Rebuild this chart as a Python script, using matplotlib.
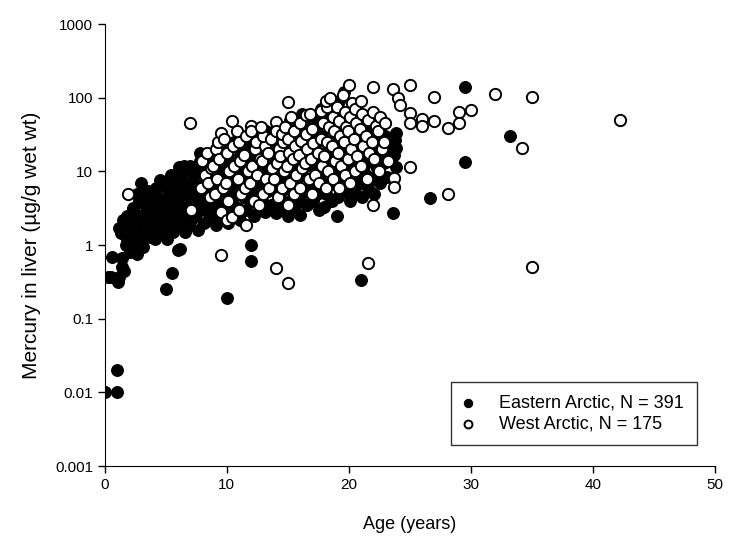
import matplotlib
matplotlib.use("Agg")
import matplotlib.pyplot as plt

plt.rcParams['font.family'] = ['Liberation Sans', 'DejaVu Sans']

# Eastern Arctic (filled): groups of (ages, Hg in liver ug/g wet wt)
east = [
    ([0.0, 1.0, 1.0], [0.01, 0.01, 0.02]),
    ([0.3, 0.6, 0.5, 1.4], [0.37, 0.68, 0.37, 0.66]),
    ([1.2, 1.6, 1.4, 1.1, 1.7, 1.3, 1.5, 1.8, 1.2], [0.37, 0.45, 0.5, 0.32, 1.0, 1.45, 2.2, 1.2, 1.7]),
    ([2.1, 1.9, 2.2, 2.0, 1.8, 2.3, 2.1], [0.8, 1.0, 1.3, 1.8, 2.5, 3.2, 2.0]),
    ([2.6, 2.4, 2.7, 2.5, 2.3, 2.8, 2.6], [0.75, 1.1, 1.5, 2.2, 3.0, 4.0, 5.0]),
    ([3.1, 2.9, 3.2, 3.0, 3.3, 2.9, 3.0, 3.1, 3.2], [0.94, 1.3, 1.8, 2.5, 3.5, 4.5, 7.0, 2.0, 1.5]),
    ([3.7, 3.5, 3.4, 3.6, 3.8, 3.5, 3.7], [1.28, 1.6, 2.2, 3.0, 4.0, 5.5, 2.7]),
    ([4.1, 3.9, 4.2, 4.0, 4.3, 3.9, 4.1, 4.2], [1.2, 1.6, 2.0, 2.5, 3.2, 4.2, 5.0, 6.0]),
    ([4.6, 4.4, 4.7, 4.5, 4.3, 4.5, 4.8], [1.5, 2.0, 2.8, 3.5, 4.5, 7.6, 2.4]),
    ([5.0, 5.1, 4.9, 5.2, 5.0, 4.9, 5.2, 5.1, 5.3], [0.25, 1.2, 1.7, 2.2, 3.0, 4.0, 5.5, 7.0, 2.6]),
    ([5.5, 5.6, 5.4, 5.7, 5.5, 5.8, 5.6, 5.4], [0.42, 1.5, 2.0, 2.8, 3.8, 5.0, 6.5, 9.0]),
    ([6.0, 6.2, 5.9, 6.1, 6.3, 5.9, 6.2, 6.0, 6.1], [0.85, 0.9, 1.8, 2.5, 3.3, 4.5, 6.0, 8.0, 11.4]),
    ([6.6, 6.4, 6.7, 6.5, 6.8, 6.4, 6.6, 6.5], [1.5, 2.2, 3.0, 4.2, 5.5, 7.5, 10.0, 12.0]),
    ([6.9, 7.1, 7.2, 6.9, 7.1, 7.3, 7.0], [1.9, 3.0, 4.0, 5.5, 7.0, 9.0, 12.0]),
    ([7.6, 7.4, 7.7, 7.5, 7.3, 7.6, 7.8], [1.6, 2.4, 3.5, 5.0, 7.0, 10.0, 14.0]),
    ([8.1, 7.9, 8.2, 8.0, 8.3, 7.9, 7.8], [2.0, 3.0, 4.5, 6.5, 9.0, 13.0, 17.7]),
    ([8.6, 8.4, 8.7, 8.5, 8.3, 8.6], [2.5, 3.5, 5.0, 7.5, 11.0, 16.0]),
    ([9.1, 8.9, 9.2, 9.0, 8.8, 9.1, 9.2], [1.9, 2.8, 4.0, 6.0, 9.0, 14.0, 20.0]),
    ([9.6, 9.4, 9.7, 9.5, 9.3, 9.6], [2.3, 3.5, 5.5, 8.0, 12.0, 18.0]),
    ([10.0, 10.1, 9.9, 10.2, 10.0, 9.8, 10.1, 10.3], [0.19, 2.0, 3.0, 4.5, 7.0, 10.0, 15.0, 22.0]),
    ([10.6, 10.4, 10.7, 10.5, 10.3, 10.6], [2.5, 4.0, 6.0, 9.0, 13.0, 25.0]),
    ([11.1, 10.9, 11.2, 11.0, 10.8, 11.1, 11.3], [2.2, 3.2, 5.0, 7.5, 11.0, 17.0, 28.0]),
    ([11.6, 11.4, 11.7, 11.5, 11.3, 11.6], [3.0, 4.5, 6.5, 10.0, 15.0, 22.0]),
    ([12.0, 12.0, 12.2, 11.9, 12.1, 11.8, 12.2, 12.0, 12.1], [0.6, 1.0, 2.5, 3.8, 5.5, 8.5, 13.0, 20.0, 30.0]),
    ([12.6, 12.4, 12.7, 12.5, 12.3, 12.6], [3.0, 4.5, 7.0, 11.0, 16.0, 25.0]),
    ([13.1, 12.9, 13.2, 13.0, 12.8, 13.1, 13.2], [2.8, 4.0, 6.0, 9.0, 14.0, 21.0, 35.0]),
    ([13.6, 13.4, 13.7, 13.5, 13.3, 13.6], [3.5, 5.5, 8.0, 12.0, 18.0, 28.0]),
    ([14.0, 14.1, 13.9, 14.2, 14.0, 13.8, 14.1], [2.7, 4.0, 6.0, 9.5, 14.0, 22.0, 40.0]),
    ([14.6, 14.4, 14.7, 14.5, 14.3, 14.6], [3.2, 5.0, 7.5, 11.0, 17.0, 30.0]),
    ([15.0, 15.1, 14.9, 15.2, 15.0, 14.8, 15.1, 15.2], [2.5, 3.8, 6.0, 9.0, 13.0, 20.0, 32.0, 50.0]),
    ([15.6, 15.4, 15.7, 15.5, 15.3, 15.6, 15.4], [3.0, 4.5, 7.0, 10.0, 16.0, 25.0, 45.0]),
    ([16.0, 16.1, 15.9, 16.2, 16.0, 15.8, 16.1, 16.2], [2.6, 4.0, 6.0, 9.0, 14.0, 22.0, 35.0, 60.0]),
    ([16.6, 16.4, 16.7, 16.5, 16.3, 16.6, 16.4], [3.5, 5.5, 8.0, 12.0, 18.0, 28.0, 50.0]),
    ([17.1, 16.9, 17.2, 17.0, 16.8, 17.1, 17.2], [4.0, 6.0, 9.0, 13.0, 20.0, 32.0, 55.0]),
    ([17.6, 17.4, 17.7, 17.5, 17.3, 17.6, 17.4, 17.7], [3.0, 5.0, 7.5, 11.0, 17.0, 26.0, 42.0, 70.0]),
    ([18.0, 18.1, 17.9, 18.2, 18.0, 17.8, 18.1, 18.3], [3.3, 5.0, 8.0, 12.0, 18.0, 30.0, 48.0, 80.0]),
    ([18.6, 18.4, 18.7, 18.5, 18.3, 18.6, 18.4], [4.0, 6.5, 10.0, 15.0, 24.0, 38.0, 65.0]),
    ([19.0, 19.1, 18.9, 19.2, 19.0, 18.8, 19.1, 19.2], [2.5, 4.5, 7.0, 11.0, 17.0, 27.0, 45.0, 90.0]),
    ([19.6, 19.4, 19.7, 19.5, 19.3, 19.6, 19.6], [5.5, 8.5, 13.0, 20.0, 33.0, 55.0, 120.0]),
    ([20.1, 19.9, 20.2, 20.0, 19.8, 20.1, 20.2], [4.0, 6.0, 9.5, 15.0, 24.0, 40.0, 70.0]),
    ([20.6, 20.4, 20.7, 20.5, 20.3, 20.6], [5.0, 8.0, 12.0, 19.0, 30.0, 50.0]),
    ([21.0, 21.1, 20.9, 21.2, 21.0, 20.8, 21.1], [0.34, 4.5, 7.0, 11.0, 17.0, 28.0, 45.0]),
    ([21.6, 21.4, 21.7, 21.5, 21.3], [6.0, 9.0, 14.0, 22.0, 35.0]),
    ([22.1, 21.9, 22.2, 22.0, 21.9], [5.0, 8.0, 12.0, 18.0, 33.0]),
    ([22.6, 22.4, 22.7, 22.5], [7.0, 10.0, 16.0, 25.0]),
    ([23.1, 22.9, 23.2, 23.0], [8.5, 13.0, 20.0, 30.0]),
    ([23.6, 23.9, 23.7, 23.9, 23.8, 23.9], [2.7, 11.4, 16.6, 21.0, 27.0, 33.0]),
    ([26.7, 29.5, 29.5, 33.2], [4.3, 140.0, 13.4, 30.0]),
]

# West Arctic (open)
west = [
    ([1.9, 7.0, 7.1], [4.9, 45.0, 3.0]),
    ([8.0, 8.2, 7.9], [14.0, 9.0, 6.0]),
    ([8.5, 8.7, 8.4, 8.6], [7.0, 11.0, 18.0, 4.5]),
    ([9.0, 9.2, 8.9, 9.1, 9.3], [5.0, 8.0, 12.0, 20.0, 25.0]),
    ([9.5, 9.5, 9.5, 9.7, 9.4], [0.73, 2.8, 33.0, 6.0, 15.0]),
    ([10.0, 10.1, 9.9, 10.2, 10.0, 9.8], [2.2, 4.0, 7.0, 10.0, 18.0, 28.0]),
    ([10.4, 10.4, 10.6, 10.5], [2.4, 49.0, 12.0, 22.0]),
    ([11.0, 11.2, 10.9, 11.1, 11.0, 10.8], [3.0, 5.0, 8.0, 14.0, 25.0, 35.0]),
    ([11.6, 11.5, 11.7, 11.4, 11.6], [1.87, 6.0, 10.0, 17.0, 30.0]),
    ([12.0, 12.0, 12.2, 11.9, 12.1, 12.3], [42.0, 36.0, 4.0, 7.0, 12.0, 20.0]),
    ([12.6, 12.5, 12.7, 12.4], [3.5, 9.0, 15.0, 25.0]),
    ([13.0, 13.2, 12.9, 13.1, 13.0, 12.8], [5.0, 8.0, 14.0, 22.0, 30.0, 40.0]),
    ([13.5, 13.7, 13.4, 13.6], [6.0, 11.0, 18.0, 28.0]),
    ([14.0, 14.0, 14.0, 14.2, 13.9, 14.1, 14.3], [0.49, 47.0, 36.0, 4.5, 8.0, 13.0, 20.0]),
    ([14.5, 14.7, 14.4, 14.6, 14.5], [6.0, 10.0, 16.0, 25.0, 32.0]),
    ([15.0, 15.0, 15.0, 15.2, 14.9, 15.1, 15.0, 14.8], [0.31, 3.5, 87.0, 7.0, 12.0, 18.0, 28.0, 40.0]),
    ([15.5, 15.7, 15.4, 15.6, 15.5, 15.3], [5.0, 9.0, 15.0, 22.0, 35.0, 55.0]),
    ([16.0, 16.2, 15.9, 16.1, 16.0], [6.0, 11.0, 17.0, 26.0, 45.0]),
    ([16.5, 16.7, 16.4, 16.6, 16.5], [58.0, 8.0, 13.0, 20.0, 32.0]),
    ([17.0, 17.2, 16.9, 17.1, 17.0, 16.8], [5.0, 9.0, 15.0, 24.0, 38.0, 60.0]),
    ([17.7, 17.6, 17.8, 17.5, 17.7, 17.9], [67.0, 7.0, 12.0, 18.0, 28.0, 45.0]),
    ([18.2, 18.1, 18.3, 18.0, 18.2, 18.4, 18.1], [74.0, 6.0, 10.0, 16.0, 25.0, 40.0, 90.0]),
    ([18.7, 18.9, 18.6, 18.8, 18.7, 18.5], [8.0, 14.0, 22.0, 35.0, 55.0, 100.0]),
    ([19.2, 19.4, 19.1, 19.3, 19.2, 19.0], [6.0, 12.0, 18.0, 30.0, 48.0, 75.0]),
    ([19.7, 19.9, 19.6, 19.8, 19.7, 19.5], [9.0, 15.0, 25.0, 40.0, 65.0, 110.0]),
    ([20.0, 20.1, 20.2, 19.9, 20.1, 20.3], [148.0, 7.0, 20.0, 35.0, 55.0, 85.0]),
    ([20.5, 20.7, 20.4, 20.6, 20.5], [10.0, 16.0, 28.0, 45.0, 70.0]),
    ([21.0, 21.2, 20.9, 21.1, 21.0], [12.0, 22.0, 38.0, 60.0, 90.0]),
    ([21.6, 21.5, 21.7, 21.4, 21.6], [0.57, 8.0, 18.0, 30.0, 50.0]),
    ([22.0, 22.0, 22.1, 21.9, 22.2, 22.0], [140.0, 3.5, 15.0, 25.0, 42.0, 65.0]),
    ([22.5, 22.7, 22.4, 22.6], [10.0, 20.0, 35.0, 55.0]),
    ([23.0, 23.2, 22.9], [45.0, 14.0, 25.0]),
    ([23.6, 23.7, 23.7], [130.0, 8.1, 6.1]),
    ([24.0, 24.2], [98.0, 80.0]),
    ([25.0, 25.0, 25.0, 25.0], [148.0, 62.0, 45.0, 11.4]),
    ([26.0, 26.0, 27.0, 27.0], [51.0, 42.0, 102.0, 48.0]),
    ([28.1, 28.1, 29.0, 29.0, 30.0], [5.0, 39.0, 64.0, 45.0, 68.0]),
    ([32.0, 34.2, 35.0, 35.0, 42.2], [112.0, 21.0, 102.0, 0.5, 50.0]),
]

east_age = [a for ages, vals in east for a in ages]
east_hg = [v for ages, vals in east for v in vals]
west_age = [a for ages, vals in west for a in ages]
west_hg = [v for ages, vals in west for v in vals]

fig = plt.figure(figsize=(7.33, 5.37), dpi=100)
ax = fig.add_axes([0.143, 0.132, 0.832, 0.823])

ax.scatter(east_age, east_hg, s=72, c='black', edgecolors='black', linewidths=0.8,
           label='Eastern Arctic, N = 391', zorder=2)
ax.scatter(west_age, west_hg, s=66, facecolors='white', edgecolors='black', linewidths=1.4,
           label='West Arctic, N = 175', zorder=3)

ax.set_yscale('log')
ax.set_xlim(0, 50)
ax.set_ylim(0.001, 1000)
ax.set_xticks([0, 10, 20, 30, 40, 50])
ax.set_yticks([0.001, 0.01, 0.1, 1, 10, 100, 1000])
ax.set_yticklabels(['0.001', '0.01', '0.1', '1', '10', '100', '1000'])
ax.minorticks_off()
ax.spines['top'].set_visible(False)
ax.spines['right'].set_visible(False)
ax.tick_params(direction='out', length=5, width=1, labelsize=11)
ax.set_xlabel('Age (years)', fontsize=13, labelpad=17)
ax.set_ylabel('Mercury in liver (\u00b5g/g wet wt)', fontsize=15, labelpad=10)
for sp in ax.spines.values():
    sp.set_clip_on(False)

leg = ax.legend(loc='lower right', bbox_to_anchor=(0.9705, 0.0475), frameon=True,
                fancybox=False, edgecolor='black', fontsize=13,
                borderpad=0.7, labelspacing=0.2, handlelength=0.5,
                handletextpad=1.5, markerscale=0.7, borderaxespad=0)
leg.get_frame().set_linewidth(1.0)

fig.savefig('out.png', dpi=100)
